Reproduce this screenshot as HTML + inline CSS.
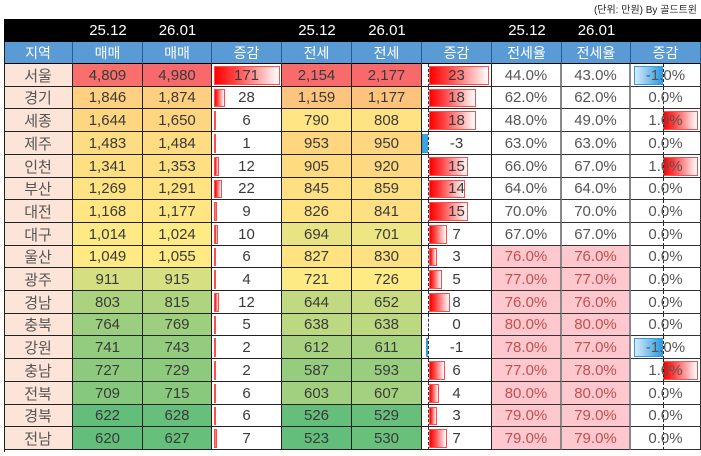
<!DOCTYPE html>
<html><head><meta charset="utf-8">
<style>
body{margin:0;width:701px;height:456px;background:#fff;position:relative;overflow:hidden;font-family:"Liberation Sans","Noto Sans CJK KR",sans-serif;}
.c{position:absolute;box-sizing:border-box;display:flex;align-items:center;justify-content:center;font-size:15px;color:#3a3a3a;}
.b{position:absolute;box-sizing:border-box;}
</style></head><body>
<div class="c" style="right:4px;top:1px;font-size:10px;color:#222;justify-content:flex-end;height:14px;">(단위: 만원) By 골드트윈</div>
<div class="b" style="left:4px;top:19px;width:697px;height:23px;background:#000;"></div>
<div class="b" style="left:4px;top:42px;width:697px;height:22px;background:#5b9bd5;"></div>
<div id="root"></div>
<script>
const X=[4,73,143,212,282,352,422,492,562,631,701];
const D=[
["서울",4809,4980,171,2154,2177,23,44,43,-1],
["경기",1846,1874,28,1159,1177,18,62,62,0],
["세종",1644,1650,6,790,808,18,48,49,1],
["제주",1483,1484,1,953,950,-3,63,63,0],
["인천",1341,1353,12,905,920,15,66,67,1],
["부산",1269,1291,22,845,859,14,64,64,0],
["대전",1168,1177,9,826,841,15,70,70,0],
["대구",1014,1024,10,694,701,7,67,67,0],
["울산",1049,1055,6,827,830,3,76,76,0],
["광주",911,915,4,721,726,5,77,77,0],
["경남",803,815,12,644,652,8,76,76,0],
["충북",764,769,5,638,638,0,80,80,0],
["강원",741,743,2,612,611,-1,78,77,-1],
["충남",727,729,2,587,593,6,77,78,1],
["전북",709,715,6,603,607,4,80,80,0],
["경북",622,628,6,526,529,3,79,79,0],
["전남",620,627,7,523,530,7,79,79,0]];
let h='';
function cell(i,top,hh,txt,st){h+=`<div class="c" style="left:${X[i]}px;top:${top}px;width:${X[i+1]-X[i]}px;height:${hh}px;${st||''}">${txt}</div>`;}
const hd1=['','25.12','26.01','','25.12','26.01','','25.12','26.01',''];
const hd2=['지역','매매','매매','증감','전세','전세','증감','전세율','전세율','증감'];
for(let i=0;i<10;i++){cell(i,19,23,hd1[i],'color:#fff;font-size:15px;');cell(i,42,22,hd2[i],'color:#fff;font-size:14px;border-right:1px solid #2a5d8f;border-bottom:1px solid #000;');}
function med(a){a=[...a].sort((x,y)=>x-y);const n=a.length;return n%2?a[(n-1)/2]:(a[n/2-1]+a[n/2])/2;}
function lerp(a,b,t){return a.map((v,k)=>Math.round(v+(b[k]-v)*t));}
const G=[99,190,123],Y=[255,235,132],R=[248,105,107];
function sc(v,mn,md,mx){let c=v<=md?lerp(G,Y,(v-mn)/(md-mn)):lerp(Y,R,(v-md)/(mx-md));return `rgb(${c})`;}
const mv=D.flatMap(r=>[r[1],r[2]]),jv=D.flatMap(r=>[r[4],r[5]]);
const mS=[Math.min(...mv),med(mv),Math.max(...mv)],jS=[Math.min(...jv),med(jv),Math.max(...jv)];
const fmt=v=>v.toLocaleString('en-US');
const RH=22.7;
D.forEach((r,j)=>{
 const t=Math.round(64+j*RH),hh=Math.round(64+(j+1)*RH)-t;
 const bd='border-right:1px solid #222;border-bottom:1px solid #222;';
 cell(0,t,hh,r[0],'background:#fde4d8;color:#555;'+bd);
 cell(1,t,hh,fmt(r[1]),'background:'+sc(r[1],...mS)+';'+bd);
 cell(2,t,hh,fmt(r[2]),'background:'+sc(r[2],...mS)+';'+bd);
 let w=Math.max(2,r[3]/171*66);
 h+=`<div class="b" style="left:214px;top:${t+2}px;width:${w}px;height:${hh-4}px;background:linear-gradient(to right,#ff0000,#ff4040 30%,#fff);border:1px solid #ff4d4d;"></div>`;
 cell(3,t,hh,r[3],'background:transparent;'+bd);
 cell(4,t,hh,fmt(r[4]),'background:'+sc(r[4],...jS)+';'+bd);
 cell(5,t,hh,fmt(r[5]),'background:'+sc(r[5],...jS)+';'+bd);
 if(r[6]>0){w=r[6]*2.6;h+=`<div class="b" style="left:429px;top:${t+2}px;width:${w}px;height:${hh-4}px;background:linear-gradient(to right,#ff0000,#ff4040 30%,#fff);border:1px solid #ff4d4d;"></div>`;}
 else if(r[6]<0){w=-r[6]*2;h+=`<div class="b" style="left:${428-w}px;top:${t+2}px;width:${w}px;height:${hh-4}px;background:#3aa6e6;border:1px solid #3a9ad6;"></div>`;}
 h+=`<div class="b" style="left:428px;top:${t}px;height:${hh}px;border-left:1px dashed #333;"></div>`;
 cell(6,t,hh,r[6],'background:transparent;'+bd);
 const pk='background:#ffc7ce;color:#c0504d;',wh='background:#fff;color:#555;';
 const gb='border-right:2px solid #888;border-bottom:1px solid #333;';
 cell(7,t,hh,r[7].toFixed(1)+'%',(r[7]>=75?pk:wh)+gb);
 cell(8,t,hh,r[8].toFixed(1)+'%',(r[8]>=75?pk:wh)+gb);
 if(r[9]>0)h+=`<div class="b" style="left:663px;top:${t+2}px;width:35px;height:${hh-4}px;background:linear-gradient(to right,#ff0000,#ff4040 30%,#fff);border:1px solid #ff4d4d;"></div>`;
 if(r[9]<0)h+=`<div class="b" style="left:634px;top:${t+2}px;width:29px;height:${hh-4}px;background:linear-gradient(to right,#d6ebfa,#2c9be0);border:1px solid #3a9ad6;"></div>`;
 h+=`<div class="b" style="left:663px;top:${t}px;height:${hh}px;border-left:1px dashed #222;"></div>`;
 cell(9,t,hh,r[9].toFixed(1)+'%','background:transparent;color:#555;border-right:1px solid #333;border-bottom:1px solid #333;');
});
h+=`<div class="b" style="left:4px;top:42px;width:1px;height:410px;background:#222;"></div>`;
document.getElementById('root').innerHTML=h;
</script>
</body></html>
